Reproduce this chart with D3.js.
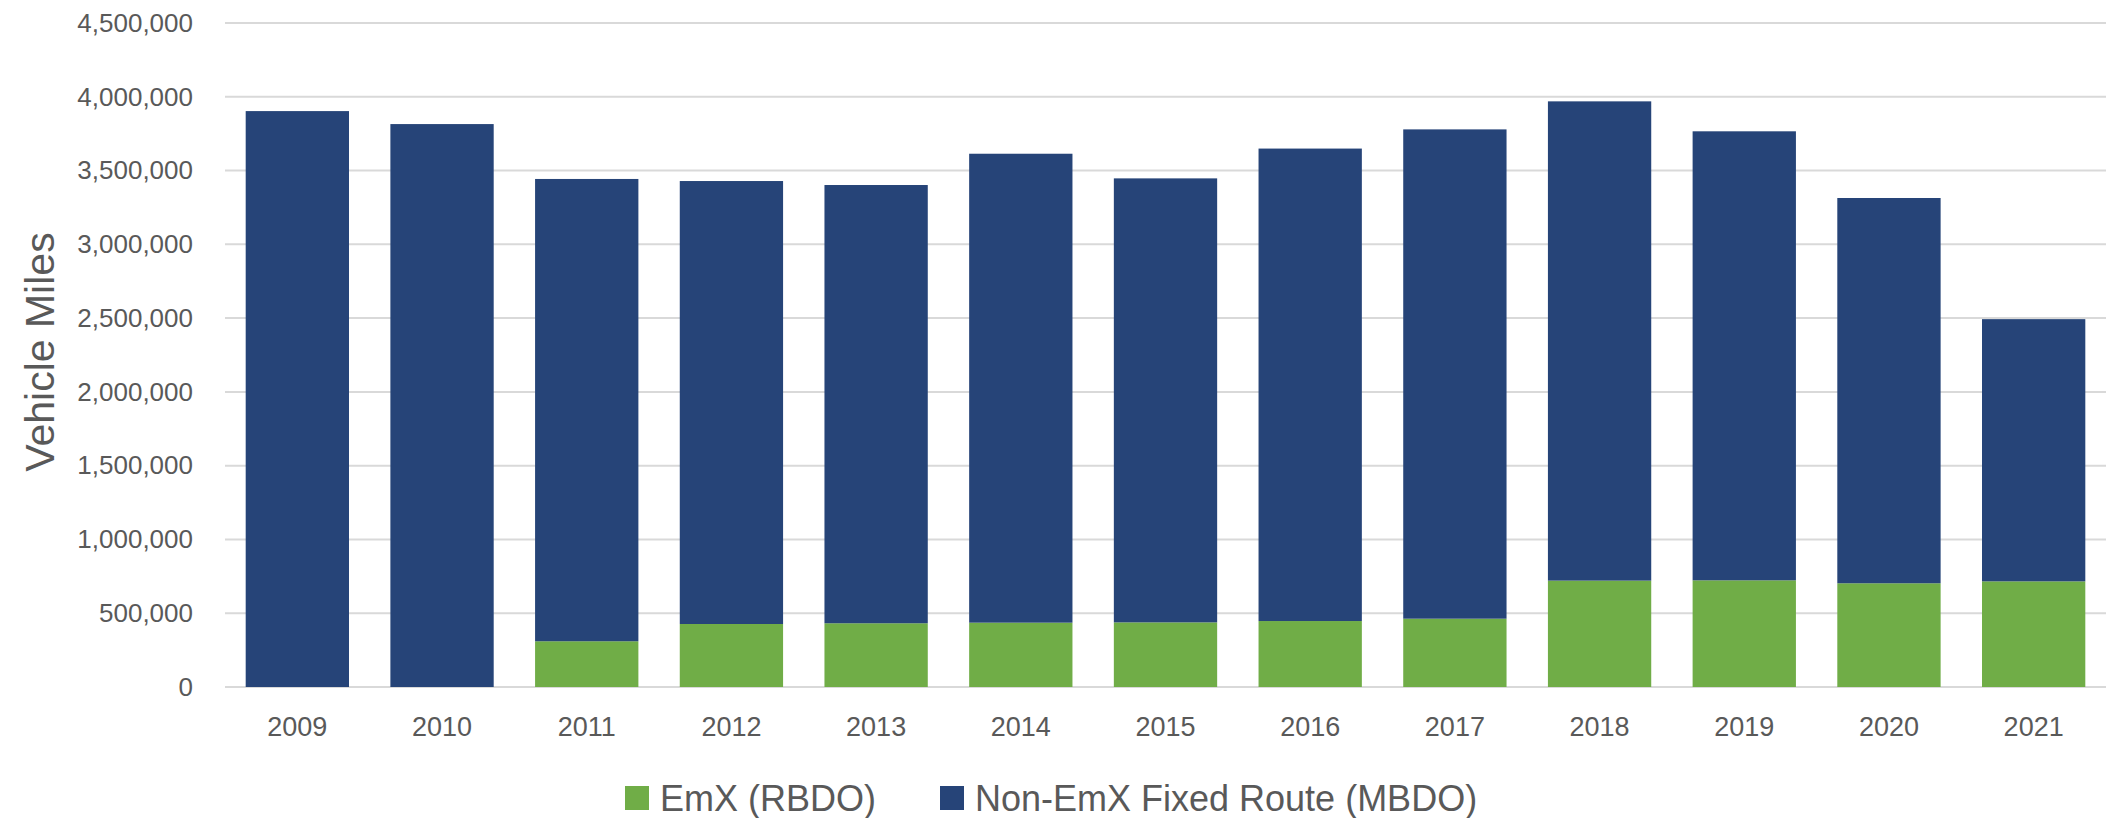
<!DOCTYPE html>
<html>
<head>
<meta charset="utf-8">
<script src="https://d3js.org/d3.v7.min.js"></script>
<style>
  body { margin: 0; background: #fff; }
  .chart text { font-family: "Liberation Sans", Arial, sans-serif; fill: #595959; }
</style>
</head>
<body>
<div class="chart"></div>
<script>
// Data
var years = ["2009", "2010", "2011", "2012", "2013", "2014", "2015", "2016", "2017", "2018", "2019", "2020", "2021"];
var emx = [0, 0, 310000, 427000, 432000, 436000, 438000, 447000, 463000, 721000, 723000, 703000, 716000];
var nonEmx = [3903000, 3815000, 3133000, 3002000, 2970000, 3178000, 3009000, 3202000, 3316000, 3248000, 3043000, 2611000, 1777000];
var yTicks = [0, 500000, 1000000, 1500000, 2000000, 2500000, 3000000, 3500000, 4000000, 4500000];
var seriesNames = ["EmX (RBDO)", "Non-EmX Fixed Route (MBDO)"];
var seriesColors = ["#70AD47", "#264478"];

var svgWidth = 2110;
var svgHeight = 818;
var margin = { top: 23, right: 4, bottom: 131, left: 225 };
var width = svgWidth - margin.left - margin.right;
var height = svgHeight - margin.top - margin.bottom;

var svg = d3.select(".chart")
  .append("svg")
  .attr("width", svgWidth)
  .attr("height", svgHeight)
  .append("g")
  .attr("transform", "translate(" + margin.left + "," + margin.top + ")");

var xBandScale = d3.scaleBand()
  .domain(years)
  .range([0, width])
  .paddingInner(0.286)
  .paddingOuter(0.143);

var yLinearScale = d3.scaleLinear()
  .domain([0, 4500000])
  .range([height, 0]);

// gridlines
svg.append("g")
  .selectAll("line")
  .data(yTicks)
  .enter()
  .append("line")
  .attr("x1", 0)
  .attr("x2", width)
  .attr("y1", function(d) { return yLinearScale(d); })
  .attr("y2", function(d) { return yLinearScale(d); })
  .attr("stroke", "#D9D9D9")
  .attr("stroke-width", 2);

// stacked data
var tableRows = years.map(function(y, i) {
  return { year: y, emx: emx[i], nonEmx: nonEmx[i] };
});
var stacked = d3.stack().keys(["emx", "nonEmx"])(tableRows);

svg.append("g")
  .selectAll("g")
  .data(stacked)
  .enter()
  .append("g")
  .attr("fill", function(d, i) { return seriesColors[i]; })
  .selectAll("rect")
  .data(function(d) { return d; })
  .enter()
  .append("rect")
  .attr("x", function(d) { return xBandScale(d.data.year); })
  .attr("width", xBandScale.bandwidth())
  .attr("y", function(d) { return yLinearScale(d[1]); })
  .attr("height", function(d) { return yLinearScale(d[0]) - yLinearScale(d[1]); });

// axes
var leftAxis = d3.axisLeft(yLinearScale)
  .tickValues(yTicks)
  .tickFormat(d3.format(","))
  .tickSize(0)
  .tickPadding(32);

var bottomAxis = d3.axisBottom(xBandScale)
  .tickSize(0)
  .tickPadding(30);

var yAxisG = svg.append("g").call(leftAxis);
yAxisG.select(".domain").remove();
yAxisG.selectAll("text").attr("font-size", "26px");

var xAxisG = svg.append("g")
  .attr("transform", "translate(0," + height + ")")
  .call(bottomAxis);
xAxisG.select(".domain").remove();
xAxisG.selectAll("text").attr("font-size", "27px");

// y label
svg.append("text")
  .attr("transform", "rotate(-90)")
  .attr("x", 0 - 329)
  .attr("y", 0 - margin.left + 40)
  .attr("dy", "0.35em")
  .attr("text-anchor", "middle")
  .attr("font-size", "41px")
  .text("Vehicle Miles");

// legend
var legendX = [625 - margin.left, 940 - margin.left];
var legend = svg.append("g")
  .attr("transform", "translate(0," + (798 - margin.top) + ")");
seriesNames.forEach(function(name, i) {
  legend.append("rect")
    .attr("x", legendX[i])
    .attr("y", -12)
    .attr("width", 24)
    .attr("height", 24)
    .attr("fill", seriesColors[i]);
  legend.append("text")
    .attr("x", legendX[i] + 35)
    .attr("y", 0)
    .attr("dy", "0.35em")
    .attr("font-size", "36px")
    .text(name);
});
</script>
</body>
</html>
